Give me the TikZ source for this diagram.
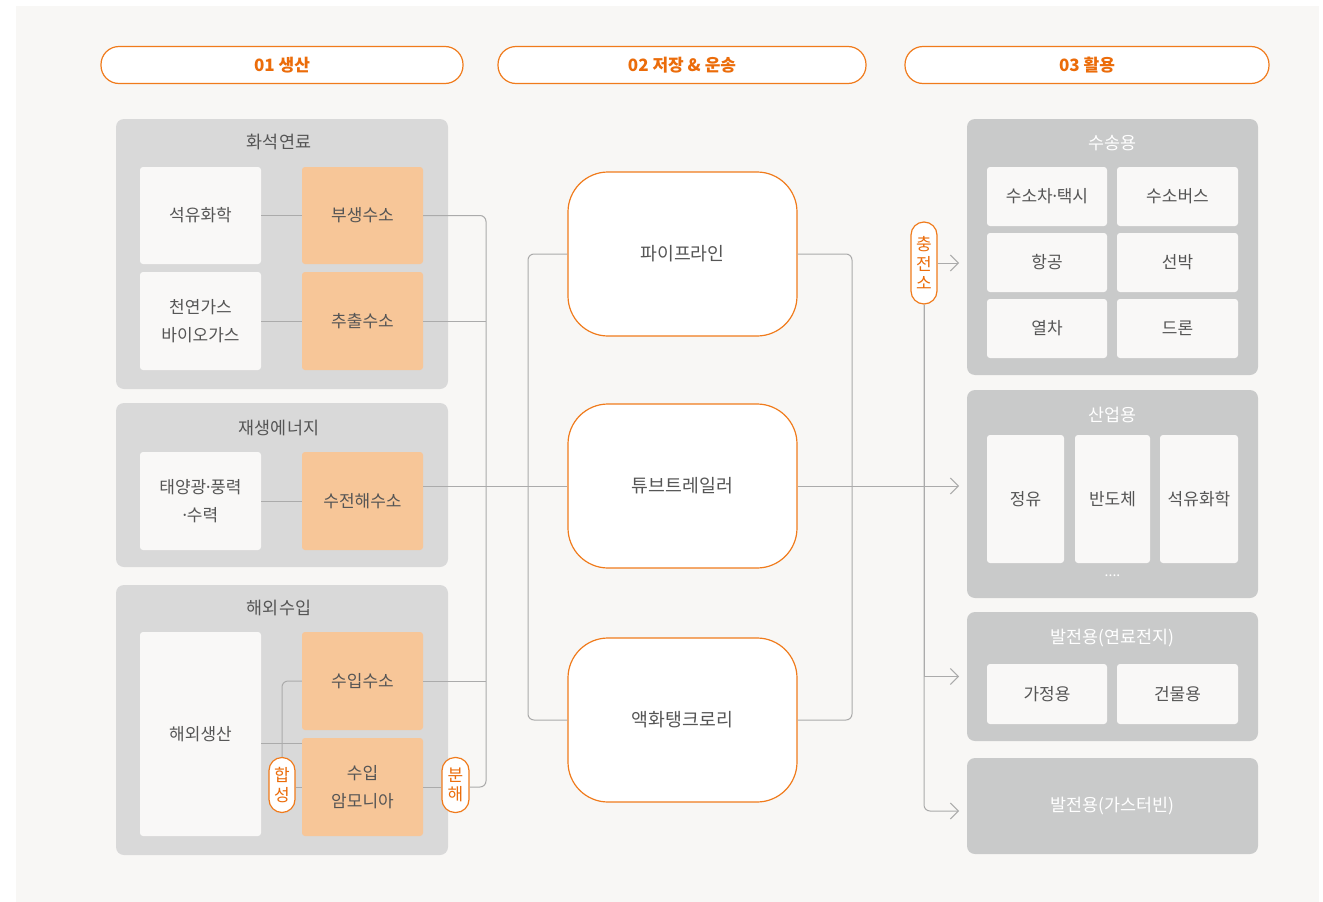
\documentclass[tikz,border=0pt]{standalone}
\usepackage{fontspec}
\setmainfont{Noto Sans CJK KR}
\usetikzlibrary{arrows.meta,positioning}

\definecolor{paper}{HTML}{F8F7F5}
\definecolor{orangeline}{HTML}{F07B1C}
\definecolor{orangetext}{HTML}{EB6C0A}
\definecolor{orangefill}{HTML}{F7C698}
\definecolor{grayleft}{HTML}{D9D9D9}
\definecolor{grayright}{HTML}{C9CACA}
\definecolor{cellfill}{HTML}{F9F8F7}
\definecolor{labeltext}{HTML}{555555}
\definecolor{lineg}{HTML}{ABABAB}

% narrow middle dot
\newcommand{\mdot}{\makebox[4pt][c]{·}}

\tikzset{
  lbl/.style={font=\fontsize{17}{28}\selectfont, text=labeltext, align=center},
  head/.style={draw=orangeline, line width=1.2, fill=white, rounded corners=18,
    minimum height=37, text=orangetext, font=\bfseries\fontsize{17}{20}\selectfont},
  grpL/.style={fill=grayleft, rounded corners=8},
  grpR/.style={fill=grayright, rounded corners=8},
  titleL/.style={font=\fontsize{17.4}{20}\selectfont, text=labeltext},
  titleR/.style={font=\fontsize{17.4}{20}\selectfont, text=white},
  cell/.style={lbl, fill=cellfill, rounded corners=3},
  hcell/.style={lbl, fill=orangefill, rounded corners=3, minimum width=121, minimum height=98},
  carrier/.style={lbl, font=\fontsize{18.3}{22}\selectfont, draw=orangeline, line width=1.2,
    fill=white, rounded corners=40, minimum width=229, minimum height=164},
  pill/.style={draw=orangeline, line width=1.2, fill=white, rounded corners=13,
    inner sep=0pt, align=center, text=orangetext, font=\fontsize{17}{19.5}\selectfont},
  conn/.style={draw=lineg, line width=1},
  arr/.style={-{Straight Barb[length=8pt,width=16pt]}}
}

\begin{document}
\begin{tikzpicture}[x=1pt,y=-1pt]
  \useasboundingbox (0,0) rectangle (1323,902);
  \fill[paper] (16,6) rectangle (1319,902);

  % headers
  \node[head, minimum width=362] (h1) at (282,65) {01 생산};
  \node[head, minimum width=368] (h2) at (682,65) {02 저장 \& 운송};
  \node[head, minimum width=364] (h3) at (1087,65) {03 활용};

  % 01 production
  \node[grpL, minimum width=332, minimum height=270] (fossil) at (282,254) {};
  \node[titleL] (fossilt) at (279,142) {화석연료};
  \node[cell, minimum width=121, minimum height=97] (seogyu) at (200.5,215.5) {석유화학};
  \node[hcell, minimum height=97] (busaeng) at (362.5,215.5) {부생수소};
  \node[cell, minimum width=121, minimum height=98] (cheonyeon) at (200.5,321) {천연가스\\바이오가스};
  \node[hcell] (chulsu) at (362.5,321) {추출수소};

  \node[grpL, minimum width=332, minimum height=164] (renew) at (282,485) {};
  \node[titleL] (renewt) at (279,428) {재생에너지};
  \node[cell, minimum width=121, minimum height=98] (taeyang) at (200.5,501) {태양광\mdot 풍력\\\mdot 수력};
  \node[hcell] (sujeonhae) at (362.5,501) {수전해수소};

  \node[grpL, minimum width=332, minimum height=270] (import) at (282,720) {};
  \node[titleL] (importt) at (279,608) {해외수입};
  \node[cell, minimum width=121, minimum height=204] (haeoe) at (200.5,734) {해외생산};
  \node[hcell] (suip) at (362.5,681) {수입수소};
  \node[hcell] (ammonia) at (362.5,787) {수입\\암모니아};

  \node[pill, minimum width=26, minimum height=55] (hapseong) at (282,785) {합\\성};
  \node[pill, minimum width=27, minimum height=55] (bunhae) at (455.5,785) {분\\해};

  \coordinate (busx) at (486,0);
  \draw[conn] (seogyu) -- (busaeng);
  \draw[conn] (cheonyeon) -- (chulsu);
  \draw[conn] (taeyang) -- (sujeonhae);
  \draw[conn] ([yshift=-9pt]haeoe.east) -- ([yshift=-9pt]haeoe.east -| ammonia.west);
  \draw[conn, rounded corners=6] (suip.west) -| (hapseong.north);
  \draw[conn] (hapseong.east |- ammonia.west) -- (ammonia.west);
  \draw[conn] (ammonia.east) -- (bunhae.west |- ammonia.east);
  \draw[conn, rounded corners=6] (busaeng.east) -| (busx |- ammonia.east) -- (bunhae.east |- ammonia.east);
  \draw[conn] (chulsu.east) -- (chulsu.east -| busx);
  \draw[conn] (suip.east) -- (suip.east -| busx);

  % 02 storage & transport
  \node[carrier] (pipe) at (682.5,254) {파이프라인};
  \node[carrier] (tube) at (682.5,486) {튜브트레일러};
  \node[carrier] (lng) at (682.5,720) {액화탱크로리};

  \coordinate (lbx) at (528,0);
  \coordinate (rbx) at (852,0);
  \coordinate (arrx) at (959,0);
  \draw[conn] (sujeonhae.east |- tube.west) -- (tube.west);
  \draw[conn, rounded corners=6] (pipe.west) -| (lbx |- lng.west) -- (lng.west);
  \draw[conn, rounded corners=6] (pipe.east) -| (rbx |- lng.east) -- (lng.east);

  % 03 use
  \node[grpR, minimum width=291, minimum height=256] (susong) at (1112.5,247) {};
  \node[titleR] (susongt) at (1112.5,143) {수송용};
  \node[cell, minimum width=120, minimum height=59] (car) at (1047,196.5) {수소차\mdot 택시};
  \node[cell, minimum width=121, minimum height=59] (bus) at (1177.5,196.5) {수소버스};
  \node[cell, minimum width=120, minimum height=59] (air) at (1047,262.5) {항공};
  \node[cell, minimum width=121, minimum height=59] (ship) at (1177.5,262.5) {선박};
  \node[cell, minimum width=120, minimum height=59] (train) at (1047,328.5) {열차};
  \node[cell, minimum width=121, minimum height=59] (drone) at (1177.5,328.5) {드론};

  \node[grpR, minimum width=291, minimum height=208] (sanup) at (1112.5,494) {};
  \node[titleR] (sanupt) at (1112.5,415) {산업용};
  \node[cell, minimum width=77, minimum height=128] (refine) at (1025.5,499) {정유};
  \node[cell, minimum width=75, minimum height=128] (semi) at (1112.5,499) {반도체};
  \node[cell, minimum width=78, minimum height=128] (petro) at (1199,499) {석유화학};
  \node[titleR, font=\fontsize{14}{14}\selectfont] (dots) at (1112.5,576) {....};

  \node[grpR, minimum width=291, minimum height=129] (fuelcell) at (1112.5,676.5) {};
  \node[titleR] (fuelcellt) at (1112.5,638) {발전용(연료전지)};
  \node[cell, minimum width=120, minimum height=60] (home) at (1047,694) {가정용};
  \node[cell, minimum width=121, minimum height=60] (bldg) at (1177.5,694) {건물용};

  \node[grpR, titleR, minimum width=291, minimum height=96] (gasturb) at (1112.5,806) {발전용(가스터빈)};

  \node[pill, minimum width=26, minimum height=82] (station) at (924,263) {충\\전\\소};

  \draw[conn, arr] (tube.east) -- (tube.east -| arrx);
  \draw[conn, arr] (station.east) -- (station.east -| arrx);
  \draw[conn, arr] (station.south) |- (fuelcell.west -| arrx);
  \draw[conn, arr, rounded corners=6] (station.south) |- ([yshift=-5pt]gasturb.west -| arrx);
\end{tikzpicture}
\end{document}
